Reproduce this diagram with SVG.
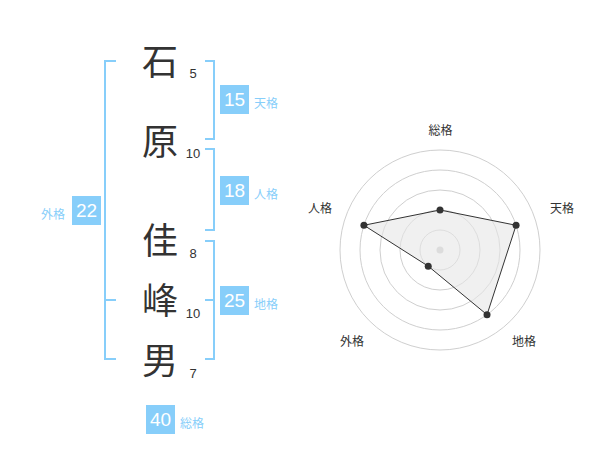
<svg xmlns="http://www.w3.org/2000/svg" width="600" height="470" viewBox="0 0 600 470">
<style>
.ch{font-family:"Noto Sans CJK JP","Noto Sans CJK SC",sans-serif;font-size:36px;fill:#333;text-anchor:middle}
.st{font-family:"Liberation Sans",Arial,sans-serif;font-size:13px;fill:#333;text-anchor:middle}
.br{fill:none;stroke:#87cefa;stroke-width:2}
.bx{fill:#87cefa}
.bn{font-family:"Liberation Sans",Arial,sans-serif;font-size:19px;fill:#fff;text-anchor:middle}
.bl{font-family:"Noto Sans CJK JP","Noto Sans CJK SC",sans-serif;font-size:12px;fill:#87cefa}
.ring{fill:none;stroke:#cfcfcf;stroke-width:1}
.rl{font-family:"Noto Sans CJK JP","Noto Sans CJK SC",sans-serif;font-size:12px;fill:#333;text-anchor:middle}
.pt{fill:#333}
</style>
<rect width="600" height="470" fill="#fff"/>
<g id="chars">
<text class="ch" x="160" y="74.5">石</text>
<text class="ch" x="160" y="155">原</text>
<text class="ch" x="160" y="254">佳</text>
<text class="ch" x="160" y="314">峰</text>
<text class="ch" x="160" y="374">男</text>
</g>
<g id="strokes">
<text class="st" x="193" y="77.5">5</text>
<text class="st" x="193" y="158">10</text>
<text class="st" x="193" y="258">8</text>
<text class="st" x="193" y="317.5">10</text>
<text class="st" x="193" y="377.5">7</text>
</g>
<g id="connectors">
<path class="br" d="M205,61 H214 V139 H205"/>
<path class="br" d="M205,149 H214 V230 H205"/>
<path class="br" d="M205,241 H214 V359 H205 M205,300 H214"/>
<path class="br" d="M116,61 H105 V359 H116 M105,300 H116"/>
</g>
<g id="tenkaku">
<rect class="bx" x="220" y="85" width="29" height="29"/>
<text class="bn" x="234.5" y="106.3">15</text>
<text class="bl" x="254" y="107.5">天格</text>
</g>
<g id="jinkaku">
<rect class="bx" x="220" y="176" width="29" height="29"/>
<text class="bn" x="234.5" y="197.3">18</text>
<text class="bl" x="254" y="198.5">人格</text>
</g>
<g id="chikaku">
<rect class="bx" x="220" y="286" width="29" height="29"/>
<text class="bn" x="234.5" y="307.3">25</text>
<text class="bl" x="254" y="308.5">地格</text>
</g>
<g id="gaikaku">
<rect class="bx" x="72" y="196" width="29" height="29"/>
<text class="bn" x="86.5" y="217.3">22</text>
<text class="bl" x="41" y="218.5">外格</text>
</g>
<g id="soukaku">
<rect class="bx" x="146" y="405" width="29" height="29"/>
<text class="bn" x="160.5" y="426.3">40</text>
<text class="bl" x="180" y="427.5">総格</text>
</g>
<g id="radar">
<circle class="ring" cx="440" cy="250" r="20"/>
<circle class="ring" cx="440" cy="250" r="40"/>
<circle class="ring" cx="440" cy="250" r="60"/>
<circle class="ring" cx="440" cy="250" r="80"/>
<circle class="ring" cx="440" cy="250" r="100"/>
<circle cx="440" cy="250" r="3.5" fill="#ccc"/>
<polygon points="440,210 516.08,225.28 487.02,314.72 428.24,266.18 363.92,225.28" fill="#e6e6e6" fill-opacity="0.6" stroke="#333" stroke-width="1"/>
<circle class="pt" cx="440" cy="210" r="3.5"/>
<circle class="pt" cx="516.08" cy="225.28" r="3.5"/>
<circle class="pt" cx="487.02" cy="314.72" r="3.5"/>
<circle class="pt" cx="428.24" cy="266.18" r="3.5"/>
<circle class="pt" cx="363.92" cy="225.28" r="3.5"/>
<text class="rl" x="440.5" y="134.5">総格</text>
<text class="rl" x="562" y="212.5">天格</text>
<text class="rl" x="524" y="346">地格</text>
<text class="rl" x="352" y="346">外格</text>
<text class="rl" x="320" y="212.5">人格</text>
</g>
</svg>
